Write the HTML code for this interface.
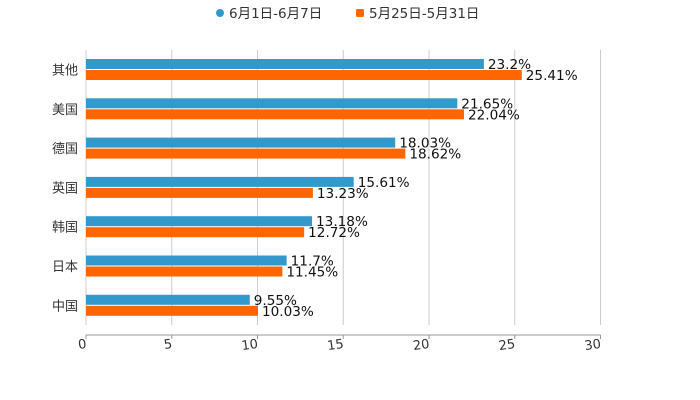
<!DOCTYPE html>
<html><head><meta charset="utf-8"><style>
body{margin:0;background:#fff;}
svg{display:block;font-family:"DejaVu Sans","Noto Sans CJK SC",sans-serif;}
</style></head><body>
<svg id="c" width="700" height="400">
<g id="legend">
<g><circle cx="220" cy="13" r="4" fill="#3399cc"/><text x="229" y="18" font-size="13.5" fill="#333">6月1日-6月7日</text></g>
<g><rect x="356" y="9" width="8" height="8" rx="1.5" fill="#ff6600"/><text x="369" y="18" font-size="13.5" fill="#333">5月25日-5月31日</text></g>
</g>
<g id="grid"></g><g id="bars"></g><g id="axes"></g>
</svg>
<script>
const categories=["其他","美国","德国","英国","韩国","日本","中国"];
const seriesJun=[23.2,21.65,18.03,15.61,13.18,11.7,9.55];
const seriesMay=[25.41,22.04,18.62,13.23,12.72,11.45,10.03];
const ticks=[0,5,10,15,20,25,30];
const ns="http://www.w3.org/2000/svg";
const x0=86,x1=600.5,xmax=30,yTop=50,yBot=325,band=39.3,firstY=69.5;
const xs=v=>x0+(x1-x0)*v/xmax;
const yc=i=>firstY+i*band;
function mk(t,a,p){const e=document.createElementNS(ns,t);for(const k in a)e.setAttribute(k,a[k]);p.appendChild(e);return e;}
const grid=document.getElementById('grid'),bars=document.getElementById('bars'),axes=document.getElementById('axes');
ticks.forEach(t=>{
 const l=mk('line',{x1:xs(t),x2:xs(t),y1:yTop,y2:yBot,stroke:'#ccc','stroke-width':1},grid);
 
 
 const tk=mk('line',{x1:xs(t),x2:xs(t),y1:335,y2:339,stroke:'#999'},axes);
 
 
 const tx=mk('text',{x:xs(t)+1,y:348,'font-size':13,fill:'#333','text-anchor':'end',transform:`rotate(-8 ${xs(t)} 348)`},axes);
 tx.textContent=t;
 
 
});
const ax=mk('line',{x1:x0,x2:x1,y1:335,y2:335,stroke:'#999'},axes);


categories.forEach((c,i)=>{
 const y=yc(i);
 const lb=mk('text',{x:78,y:y+5,'font-size':13,fill:'#333','text-anchor':'end'},axes);
 lb.textContent=c;
 
 
 [[seriesJun,'#3399cc',y-10.5,'jun'],[seriesMay,'#ff6600',y+0.5,'may']].forEach(([s,col,by,n])=>{
  const r=mk('rect',{x:x0,y:by,width:xs(s[i])-x0,height:10,fill:col},bars);
  
  
  const t=mk('text',{x:xs(s[i])+4,y:by+10,'font-size':13.6,fill:'#111'},bars);
  t.textContent=s[i]+'%';
  
  
 });
});
</script>
</body></html>
